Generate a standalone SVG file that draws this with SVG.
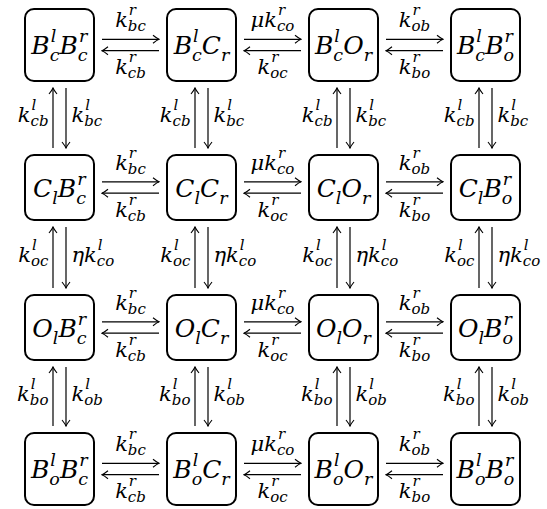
<svg xmlns="http://www.w3.org/2000/svg" width="547" height="509" viewBox="0 0 547 509">
<style>
text{fill:#000}
.box{fill:#fff;stroke:#000;stroke-width:2}
.n{font-size:25px}
.ns{font-size:17.5px}
.l{font-size:21px}
.ls{font-size:15px}
.ar{stroke:#000;stroke-width:1.2;fill:none;marker-end:url(#ah)}
</style>
<defs>
<marker id="ah" viewBox="-8 -5 9 10" refX="0" refY="0" markerWidth="9" markerHeight="10" orient="auto" markerUnits="userSpaceOnUse">
<path d="M-6,-4 Q-2,-0.8 0,0 Q-2,0.8 -6,4" fill="none" stroke="#000" stroke-width="1.1"/>
</marker>
</defs>
<g id="connectors">
<path class="ar" d="M102,39.3H159"/><path class="ar" d="M159,50.7H102"/>
<path class="ar" d="M244,39.3H301"/><path class="ar" d="M301,50.7H244"/>
<path class="ar" d="M386,39.3H443"/><path class="ar" d="M443,50.7H386"/>
<path class="ar" d="M102,181.8H159"/><path class="ar" d="M159,193.2H102"/>
<path class="ar" d="M244,181.8H301"/><path class="ar" d="M301,193.2H244"/>
<path class="ar" d="M386,181.8H443"/><path class="ar" d="M443,193.2H386"/>
<path class="ar" d="M102,321.8H159"/><path class="ar" d="M159,333.2H102"/>
<path class="ar" d="M244,321.8H301"/><path class="ar" d="M301,333.2H244"/>
<path class="ar" d="M386,321.8H443"/><path class="ar" d="M443,333.2H386"/>
<path class="ar" d="M102,463.3H159"/><path class="ar" d="M159,474.7H102"/>
<path class="ar" d="M244,463.3H301"/><path class="ar" d="M301,474.7H244"/>
<path class="ar" d="M386,463.3H443"/><path class="ar" d="M443,474.7H386"/>
<path class="ar" d="M53,148V88"/><path class="ar" d="M66,88V148"/>
<path class="ar" d="M195,148V88"/><path class="ar" d="M208,88V148"/>
<path class="ar" d="M337,148V88"/><path class="ar" d="M350,88V148"/>
<path class="ar" d="M479,148V88"/><path class="ar" d="M492,88V148"/>
<path class="ar" d="M53,288V227"/><path class="ar" d="M66,227V288"/>
<path class="ar" d="M195,288V227"/><path class="ar" d="M208,227V288"/>
<path class="ar" d="M337,288V227"/><path class="ar" d="M350,227V288"/>
<path class="ar" d="M479,288V227"/><path class="ar" d="M492,227V288"/>
<path class="ar" d="M53,426V367"/><path class="ar" d="M66,367V426"/>
<path class="ar" d="M195,426V367"/><path class="ar" d="M208,367V426"/>
<path class="ar" d="M337,426V367"/><path class="ar" d="M350,367V426"/>
<path class="ar" d="M479,426V367"/><path class="ar" d="M492,367V426"/>
</g>
<g id="rate-labels">
<text class="l" font-family="DejaVu Serif" font-style="italic" x="130.5" y="27" text-anchor="middle">k<tspan class="ls" dx="1" dy="-12">r</tspan><tspan class="ls" dx="-8.2" dy="16">bc</tspan></text>
<text class="l" font-family="DejaVu Serif" font-style="italic" x="130.5" y="74" text-anchor="middle">k<tspan class="ls" dx="1" dy="-12">r</tspan><tspan class="ls" dx="-8.2" dy="16">cb</tspan></text>
<text class="l" font-family="DejaVu Serif" font-style="italic" x="272.5" y="27" text-anchor="middle">μk<tspan class="ls" dx="1" dy="-12">r</tspan><tspan class="ls" dx="-8.2" dy="16">co</tspan></text>
<text class="l" font-family="DejaVu Serif" font-style="italic" x="272.5" y="74" text-anchor="middle">k<tspan class="ls" dx="1" dy="-12">r</tspan><tspan class="ls" dx="-8.2" dy="16">oc</tspan></text>
<text class="l" font-family="DejaVu Serif" font-style="italic" x="414.5" y="27" text-anchor="middle">k<tspan class="ls" dx="1" dy="-12">r</tspan><tspan class="ls" dx="-8.2" dy="16">ob</tspan></text>
<text class="l" font-family="DejaVu Serif" font-style="italic" x="414.5" y="74" text-anchor="middle">k<tspan class="ls" dx="1" dy="-12">r</tspan><tspan class="ls" dx="-8.2" dy="16">bo</tspan></text>
<text class="l" font-family="DejaVu Serif" font-style="italic" x="130.5" y="169.5" text-anchor="middle">k<tspan class="ls" dx="1" dy="-12">r</tspan><tspan class="ls" dx="-8.2" dy="16">bc</tspan></text>
<text class="l" font-family="DejaVu Serif" font-style="italic" x="130.5" y="216.5" text-anchor="middle">k<tspan class="ls" dx="1" dy="-12">r</tspan><tspan class="ls" dx="-8.2" dy="16">cb</tspan></text>
<text class="l" font-family="DejaVu Serif" font-style="italic" x="272.5" y="169.5" text-anchor="middle">μk<tspan class="ls" dx="1" dy="-12">r</tspan><tspan class="ls" dx="-8.2" dy="16">co</tspan></text>
<text class="l" font-family="DejaVu Serif" font-style="italic" x="272.5" y="216.5" text-anchor="middle">k<tspan class="ls" dx="1" dy="-12">r</tspan><tspan class="ls" dx="-8.2" dy="16">oc</tspan></text>
<text class="l" font-family="DejaVu Serif" font-style="italic" x="414.5" y="169.5" text-anchor="middle">k<tspan class="ls" dx="1" dy="-12">r</tspan><tspan class="ls" dx="-8.2" dy="16">ob</tspan></text>
<text class="l" font-family="DejaVu Serif" font-style="italic" x="414.5" y="216.5" text-anchor="middle">k<tspan class="ls" dx="1" dy="-12">r</tspan><tspan class="ls" dx="-8.2" dy="16">bo</tspan></text>
<text class="l" font-family="DejaVu Serif" font-style="italic" x="130.5" y="309.5" text-anchor="middle">k<tspan class="ls" dx="1" dy="-12">r</tspan><tspan class="ls" dx="-8.2" dy="16">bc</tspan></text>
<text class="l" font-family="DejaVu Serif" font-style="italic" x="130.5" y="356.5" text-anchor="middle">k<tspan class="ls" dx="1" dy="-12">r</tspan><tspan class="ls" dx="-8.2" dy="16">cb</tspan></text>
<text class="l" font-family="DejaVu Serif" font-style="italic" x="272.5" y="309.5" text-anchor="middle">μk<tspan class="ls" dx="1" dy="-12">r</tspan><tspan class="ls" dx="-8.2" dy="16">co</tspan></text>
<text class="l" font-family="DejaVu Serif" font-style="italic" x="272.5" y="356.5" text-anchor="middle">k<tspan class="ls" dx="1" dy="-12">r</tspan><tspan class="ls" dx="-8.2" dy="16">oc</tspan></text>
<text class="l" font-family="DejaVu Serif" font-style="italic" x="414.5" y="309.5" text-anchor="middle">k<tspan class="ls" dx="1" dy="-12">r</tspan><tspan class="ls" dx="-8.2" dy="16">ob</tspan></text>
<text class="l" font-family="DejaVu Serif" font-style="italic" x="414.5" y="356.5" text-anchor="middle">k<tspan class="ls" dx="1" dy="-12">r</tspan><tspan class="ls" dx="-8.2" dy="16">bo</tspan></text>
<text class="l" font-family="DejaVu Serif" font-style="italic" x="130.5" y="451" text-anchor="middle">k<tspan class="ls" dx="1" dy="-12">r</tspan><tspan class="ls" dx="-8.2" dy="16">bc</tspan></text>
<text class="l" font-family="DejaVu Serif" font-style="italic" x="130.5" y="498" text-anchor="middle">k<tspan class="ls" dx="1" dy="-12">r</tspan><tspan class="ls" dx="-8.2" dy="16">cb</tspan></text>
<text class="l" font-family="DejaVu Serif" font-style="italic" x="272.5" y="451" text-anchor="middle">μk<tspan class="ls" dx="1" dy="-12">r</tspan><tspan class="ls" dx="-8.2" dy="16">co</tspan></text>
<text class="l" font-family="DejaVu Serif" font-style="italic" x="272.5" y="498" text-anchor="middle">k<tspan class="ls" dx="1" dy="-12">r</tspan><tspan class="ls" dx="-8.2" dy="16">oc</tspan></text>
<text class="l" font-family="DejaVu Serif" font-style="italic" x="414.5" y="451" text-anchor="middle">k<tspan class="ls" dx="1" dy="-12">r</tspan><tspan class="ls" dx="-8.2" dy="16">ob</tspan></text>
<text class="l" font-family="DejaVu Serif" font-style="italic" x="414.5" y="498" text-anchor="middle">k<tspan class="ls" dx="1" dy="-12">r</tspan><tspan class="ls" dx="-8.2" dy="16">bo</tspan></text>
<text class="l" font-family="DejaVu Serif" font-style="italic" x="48.5" y="122" text-anchor="end">k<tspan class="ls" dx="1" dy="-12">l</tspan><tspan class="ls" dx="-5.8" dy="16">cb</tspan></text>
<text class="l" font-family="DejaVu Serif" font-style="italic" x="71.5" y="122">k<tspan class="ls" dx="1" dy="-12">l</tspan><tspan class="ls" dx="-5.8" dy="16">bc</tspan></text>
<text class="l" font-family="DejaVu Serif" font-style="italic" x="190.5" y="122" text-anchor="end">k<tspan class="ls" dx="1" dy="-12">l</tspan><tspan class="ls" dx="-5.8" dy="16">cb</tspan></text>
<text class="l" font-family="DejaVu Serif" font-style="italic" x="213.5" y="122">k<tspan class="ls" dx="1" dy="-12">l</tspan><tspan class="ls" dx="-5.8" dy="16">bc</tspan></text>
<text class="l" font-family="DejaVu Serif" font-style="italic" x="332.5" y="122" text-anchor="end">k<tspan class="ls" dx="1" dy="-12">l</tspan><tspan class="ls" dx="-5.8" dy="16">cb</tspan></text>
<text class="l" font-family="DejaVu Serif" font-style="italic" x="355.5" y="122">k<tspan class="ls" dx="1" dy="-12">l</tspan><tspan class="ls" dx="-5.8" dy="16">bc</tspan></text>
<text class="l" font-family="DejaVu Serif" font-style="italic" x="474.5" y="122" text-anchor="end">k<tspan class="ls" dx="1" dy="-12">l</tspan><tspan class="ls" dx="-5.8" dy="16">cb</tspan></text>
<text class="l" font-family="DejaVu Serif" font-style="italic" x="497.5" y="122">k<tspan class="ls" dx="1" dy="-12">l</tspan><tspan class="ls" dx="-5.8" dy="16">bc</tspan></text>
<text class="l" font-family="DejaVu Serif" font-style="italic" x="48.5" y="261.5" text-anchor="end">k<tspan class="ls" dx="1" dy="-12">l</tspan><tspan class="ls" dx="-5.8" dy="16">oc</tspan></text>
<text class="l" font-family="DejaVu Serif" font-style="italic" x="71.5" y="261.5">ηk<tspan class="ls" dx="1" dy="-12">l</tspan><tspan class="ls" dx="-5.8" dy="16">co</tspan></text>
<text class="l" font-family="DejaVu Serif" font-style="italic" x="190.5" y="261.5" text-anchor="end">k<tspan class="ls" dx="1" dy="-12">l</tspan><tspan class="ls" dx="-5.8" dy="16">oc</tspan></text>
<text class="l" font-family="DejaVu Serif" font-style="italic" x="213.5" y="261.5">ηk<tspan class="ls" dx="1" dy="-12">l</tspan><tspan class="ls" dx="-5.8" dy="16">co</tspan></text>
<text class="l" font-family="DejaVu Serif" font-style="italic" x="332.5" y="261.5" text-anchor="end">k<tspan class="ls" dx="1" dy="-12">l</tspan><tspan class="ls" dx="-5.8" dy="16">oc</tspan></text>
<text class="l" font-family="DejaVu Serif" font-style="italic" x="355.5" y="261.5">ηk<tspan class="ls" dx="1" dy="-12">l</tspan><tspan class="ls" dx="-5.8" dy="16">co</tspan></text>
<text class="l" font-family="DejaVu Serif" font-style="italic" x="474.5" y="261.5" text-anchor="end">k<tspan class="ls" dx="1" dy="-12">l</tspan><tspan class="ls" dx="-5.8" dy="16">oc</tspan></text>
<text class="l" font-family="DejaVu Serif" font-style="italic" x="497.5" y="261.5">ηk<tspan class="ls" dx="1" dy="-12">l</tspan><tspan class="ls" dx="-5.8" dy="16">co</tspan></text>
<text class="l" font-family="DejaVu Serif" font-style="italic" x="48.5" y="400.5" text-anchor="end">k<tspan class="ls" dx="1" dy="-12">l</tspan><tspan class="ls" dx="-5.8" dy="16">bo</tspan></text>
<text class="l" font-family="DejaVu Serif" font-style="italic" x="71.5" y="400.5">k<tspan class="ls" dx="1" dy="-12">l</tspan><tspan class="ls" dx="-5.8" dy="16">ob</tspan></text>
<text class="l" font-family="DejaVu Serif" font-style="italic" x="190.5" y="400.5" text-anchor="end">k<tspan class="ls" dx="1" dy="-12">l</tspan><tspan class="ls" dx="-5.8" dy="16">bo</tspan></text>
<text class="l" font-family="DejaVu Serif" font-style="italic" x="213.5" y="400.5">k<tspan class="ls" dx="1" dy="-12">l</tspan><tspan class="ls" dx="-5.8" dy="16">ob</tspan></text>
<text class="l" font-family="DejaVu Serif" font-style="italic" x="332.5" y="400.5" text-anchor="end">k<tspan class="ls" dx="1" dy="-12">l</tspan><tspan class="ls" dx="-5.8" dy="16">bo</tspan></text>
<text class="l" font-family="DejaVu Serif" font-style="italic" x="355.5" y="400.5">k<tspan class="ls" dx="1" dy="-12">l</tspan><tspan class="ls" dx="-5.8" dy="16">ob</tspan></text>
<text class="l" font-family="DejaVu Serif" font-style="italic" x="474.5" y="400.5" text-anchor="end">k<tspan class="ls" dx="1" dy="-12">l</tspan><tspan class="ls" dx="-5.8" dy="16">bo</tspan></text>
<text class="l" font-family="DejaVu Serif" font-style="italic" x="497.5" y="400.5">k<tspan class="ls" dx="1" dy="-12">l</tspan><tspan class="ls" dx="-5.8" dy="16">ob</tspan></text>
</g>
<g id="n11"><rect class="box" x="25" y="9" width="69" height="72" rx="9"/><text class="n" font-family="DejaVu Serif" font-style="italic" x="59.5" y="54" text-anchor="middle">B<tspan class="ns" dx="1" dy="-12">l</tspan><tspan class="ns" dx="-6.6" dy="19">c</tspan><tspan dy="-7">B</tspan><tspan class="ns" dx="1" dy="-12">r</tspan><tspan class="ns" dx="-9.4" dy="19">c</tspan></text></g>
<g id="n12"><rect class="box" x="167" y="9" width="69" height="72" rx="9"/><text class="n" font-family="DejaVu Serif" font-style="italic" x="201.5" y="54" text-anchor="middle">B<tspan class="ns" dx="1" dy="-12">l</tspan><tspan class="ns" dx="-6.6" dy="19">c</tspan><tspan dy="-7">C</tspan><tspan class="ns" dy="7">r</tspan></text></g>
<g id="n13"><rect class="box" x="309" y="9" width="69" height="72" rx="9"/><text class="n" font-family="DejaVu Serif" font-style="italic" x="343.5" y="54" text-anchor="middle">B<tspan class="ns" dx="1" dy="-12">l</tspan><tspan class="ns" dx="-6.6" dy="19">c</tspan><tspan dy="-7">O</tspan><tspan class="ns" dy="7">r</tspan></text></g>
<g id="n14"><rect class="box" x="451" y="9" width="69" height="72" rx="9"/><text class="n" font-family="DejaVu Serif" font-style="italic" x="485.5" y="54" text-anchor="middle">B<tspan class="ns" dx="1" dy="-12">l</tspan><tspan class="ns" dx="-6.6" dy="19">c</tspan><tspan dy="-7">B</tspan><tspan class="ns" dx="1" dy="-12">r</tspan><tspan class="ns" dx="-9.4" dy="19">o</tspan></text></g>
<g id="n21"><rect class="box" x="25" y="155" width="69" height="65" rx="9"/><text class="n" font-family="DejaVu Serif" font-style="italic" x="59.5" y="196.5" text-anchor="middle">C<tspan class="ns" dy="7">l</tspan><tspan dy="-7">B</tspan><tspan class="ns" dx="1" dy="-12">r</tspan><tspan class="ns" dx="-9.4" dy="19">c</tspan></text></g>
<g id="n22"><rect class="box" x="167" y="155" width="69" height="65" rx="9"/><text class="n" font-family="DejaVu Serif" font-style="italic" x="201.5" y="196.5" text-anchor="middle">C<tspan class="ns" dy="7">l</tspan><tspan dy="-7">C</tspan><tspan class="ns" dy="7">r</tspan></text></g>
<g id="n23"><rect class="box" x="309" y="155" width="69" height="65" rx="9"/><text class="n" font-family="DejaVu Serif" font-style="italic" x="343.5" y="196.5" text-anchor="middle">C<tspan class="ns" dy="7">l</tspan><tspan dy="-7">O</tspan><tspan class="ns" dy="7">r</tspan></text></g>
<g id="n24"><rect class="box" x="451" y="155" width="69" height="65" rx="9"/><text class="n" font-family="DejaVu Serif" font-style="italic" x="485.5" y="196.5" text-anchor="middle">C<tspan class="ns" dy="7">l</tspan><tspan dy="-7">B</tspan><tspan class="ns" dx="1" dy="-12">r</tspan><tspan class="ns" dx="-9.4" dy="19">o</tspan></text></g>
<g id="n31"><rect class="box" x="25" y="295" width="69" height="65" rx="9"/><text class="n" font-family="DejaVu Serif" font-style="italic" x="59.5" y="336.5" text-anchor="middle">O<tspan class="ns" dy="7">l</tspan><tspan dy="-7">B</tspan><tspan class="ns" dx="1" dy="-12">r</tspan><tspan class="ns" dx="-9.4" dy="19">c</tspan></text></g>
<g id="n32"><rect class="box" x="167" y="295" width="69" height="65" rx="9"/><text class="n" font-family="DejaVu Serif" font-style="italic" x="201.5" y="336.5" text-anchor="middle">O<tspan class="ns" dy="7">l</tspan><tspan dy="-7">C</tspan><tspan class="ns" dy="7">r</tspan></text></g>
<g id="n33"><rect class="box" x="309" y="295" width="69" height="65" rx="9"/><text class="n" font-family="DejaVu Serif" font-style="italic" x="343.5" y="336.5" text-anchor="middle">O<tspan class="ns" dy="7">l</tspan><tspan dy="-7">O</tspan><tspan class="ns" dy="7">r</tspan></text></g>
<g id="n34"><rect class="box" x="451" y="295" width="69" height="65" rx="9"/><text class="n" font-family="DejaVu Serif" font-style="italic" x="485.5" y="336.5" text-anchor="middle">O<tspan class="ns" dy="7">l</tspan><tspan dy="-7">B</tspan><tspan class="ns" dx="1" dy="-12">r</tspan><tspan class="ns" dx="-9.4" dy="19">o</tspan></text></g>
<g id="n41"><rect class="box" x="25" y="433" width="69" height="72" rx="9"/><text class="n" font-family="DejaVu Serif" font-style="italic" x="59.5" y="478" text-anchor="middle">B<tspan class="ns" dx="1" dy="-12">l</tspan><tspan class="ns" dx="-6.6" dy="19">o</tspan><tspan dy="-7">B</tspan><tspan class="ns" dx="1" dy="-12">r</tspan><tspan class="ns" dx="-9.4" dy="19">c</tspan></text></g>
<g id="n42"><rect class="box" x="167" y="433" width="69" height="72" rx="9"/><text class="n" font-family="DejaVu Serif" font-style="italic" x="201.5" y="478" text-anchor="middle">B<tspan class="ns" dx="1" dy="-12">l</tspan><tspan class="ns" dx="-6.6" dy="19">o</tspan><tspan dy="-7">C</tspan><tspan class="ns" dy="7">r</tspan></text></g>
<g id="n43"><rect class="box" x="309" y="433" width="69" height="72" rx="9"/><text class="n" font-family="DejaVu Serif" font-style="italic" x="343.5" y="478" text-anchor="middle">B<tspan class="ns" dx="1" dy="-12">l</tspan><tspan class="ns" dx="-6.6" dy="19">o</tspan><tspan dy="-7">O</tspan><tspan class="ns" dy="7">r</tspan></text></g>
<g id="n44"><rect class="box" x="451" y="433" width="69" height="72" rx="9"/><text class="n" font-family="DejaVu Serif" font-style="italic" x="485.5" y="478" text-anchor="middle">B<tspan class="ns" dx="1" dy="-12">l</tspan><tspan class="ns" dx="-6.6" dy="19">o</tspan><tspan dy="-7">B</tspan><tspan class="ns" dx="1" dy="-12">r</tspan><tspan class="ns" dx="-9.4" dy="19">o</tspan></text></g>
</svg>
